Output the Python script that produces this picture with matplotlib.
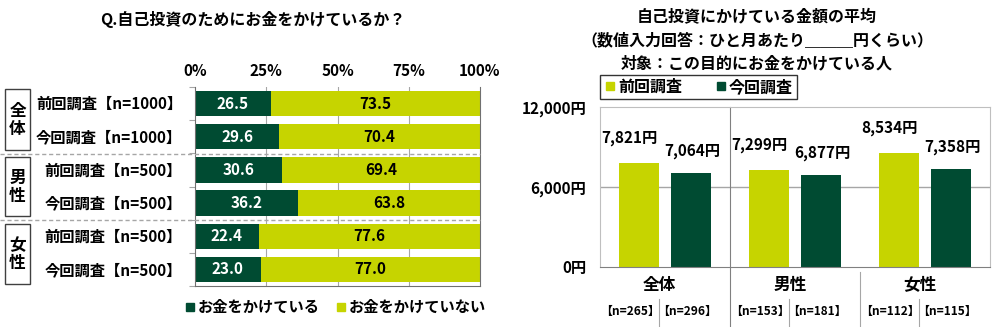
import matplotlib.pyplot as plt
from matplotlib.patches import Rectangle
from matplotlib.lines import Line2D

plt.rcParams['font.family'] = ['Noto Sans CJK JP', 'DejaVu Sans']
plt.rcParams['font.weight'] = 'bold'

DARK = '#004b32'
LIGHT = '#c6d400'
GRID = '#a6a6a6'

# 左：お金をかけているか（%）
row_labels = ['前回調査【n=1000】', '今回調査【n=1000】',
              '前回調査【n=500】', '今回調査【n=500】',
              '前回調査【n=500】', '今回調査【n=500】']
spend_yes = [26.5, 29.6, 30.6, 36.2, 22.4, 23.0]
spend_no = [73.5, 70.4, 69.4, 63.8, 77.6, 77.0]
groups = ['全体', '男性', '女性']
pct_ticks = [0, 25, 50, 75, 100]

# 右：金額の平均（円）
prev_avg = [7821, 7299, 8534]
curr_avg = [7064, 6877, 7358]
prev_n = ['【n=265】', '【n=153】', '【n=112】']
curr_n = ['【n=296】', '【n=181】', '【n=115】']
yen_ticks = [0, 6000, 12000]
right_title = ['自己投資にかけている金額の平均',
               '（数値入力回答：ひと月あたり＿＿＿円くらい）',
               '対象：この目的にお金をかけている人']

W, H = 1000, 327
fig = plt.figure(figsize=(10, 3.27), dpi=100)


def fx(px):
    return px / W


def fy(py):
    return 1 - py / H


# ---- left chart ----
ax = fig.add_axes([fx(195), fy(286), fx(285), 199 / H])
rows = range(len(row_labels))
ax.barh(rows, spend_yes, height=0.76, color=DARK, zorder=2)
ax.barh(rows, spend_no, left=spend_yes, height=0.76, color=LIGHT, zorder=2)
for i in rows:
    ax.text(spend_yes[i] / 2, i, f'{spend_yes[i]:.1f}', color='white',
            ha='center', va='center', fontsize=11)
    ax.text(spend_yes[i] + spend_no[i] / 2, i, f'{spend_no[i]:.1f}',
            color='black', ha='center', va='center', fontsize=11)
ax.set_xlim(0, 100)
ax.set_ylim(len(row_labels) - 0.5, -0.5)
ax.xaxis.tick_top()
ax.set_xticks(pct_ticks)
ax.set_xticklabels([f'{t}%' for t in pct_ticks], fontsize=11)
ax.tick_params(axis='x', length=0, pad=6)
ax.set_yticks([i - 0.5 for i in range(len(row_labels) + 1)])
ax.set_yticklabels([])
ax.tick_params(axis='y', length=4, color=GRID)
for t in pct_ticks[1:-1]:
    ax.axvline(t, color=GRID, lw=0.8, zorder=1)
ax.spines['top'].set_visible(False)
for s in ['left', 'right', 'bottom']:
    ax.spines[s].set_color('#707070')

for i, lab in enumerate(row_labels):
    fig.text(fx(182), fy(104 + 33.2 * i), lab, ha='right', va='center',
             fontsize=11)

box_y = [(89, 150), (157, 216), (224, 284)]
for g, (y0, y1) in zip(groups, box_y):
    fig.patches.append(Rectangle((fx(5), fy(y1)), fx(25), (y1 - y0) / H,
                                 transform=fig.transFigure, fill=False,
                                 edgecolor='#404040', lw=1))
    fig.text(fx(17.5), fy((y0 + y1) / 2), g[0] + '\n' + g[1], ha='center',
             va='center', fontsize=12, linespacing=1.0)

for yy in (153.5, 220):
    fig.lines.append(Line2D([0, fx(480)], [fy(yy), fy(yy)],
                            transform=fig.transFigure, color=GRID, lw=1,
                            ls=(0, (3, 2)), zorder=0))

fig.text(fx(253), fy(20), 'Q.自己投資のためにお金をかけているか？',
         ha='center', va='center', fontsize=11.5)

h_yes = Line2D([], [], marker='s', ls='none', color=DARK, markersize=6)
h_no = Line2D([], [], marker='s', ls='none', color=LIGHT, markersize=6)
fig.legend([h_yes, h_no], ['お金をかけている', 'お金をかけていない'],
           loc='center', bbox_to_anchor=(fx(335), fy(307)), ncol=2,
           frameon=False, fontsize=11, handletextpad=0.1, columnspacing=1.0,
           handlelength=0.8)

# ---- right chart ----
bx = fig.add_axes([fx(600), fy(267), fx(390), 160 / H])
xs = range(len(groups))
bw = 0.31
bx.bar([x - 0.2 for x in xs], prev_avg, width=bw, color=LIGHT, zorder=2)
bx.bar([x + 0.2 for x in xs], curr_avg, width=bw, color=DARK, zorder=2)
for x, v in zip(xs, prev_avg):
    bx.annotate(f'{v:,}円', (x - 0.2, v), xytext=(-7, 18),
                textcoords='offset points', ha='center', va='center',
                fontsize=11)
for x, v in zip(xs, curr_avg):
    bx.annotate(f'{v:,}円', (x + 0.2, v), xytext=(1, 16),
                textcoords='offset points', ha='center', va='center',
                fontsize=11)
bx.set_xlim(-0.5, len(groups) - 0.5)
bx.set_ylim(0, 12000)
bx.set_yticks(yen_ticks)
bx.set_yticklabels([f'{t:,}円' for t in yen_ticks], fontsize=11)
bx.tick_params(axis='y', length=0, pad=10)
bx.set_xticks([])
bx.axhline(6000, color=GRID, lw=1, zorder=1)
for s in ['left', 'top', 'right']:
    bx.spines[s].set_color('#bfbfbf')
bx.spines['bottom'].set_color('#808080')

# group captions and separators under the axis
bt = bx.get_xaxis_transform()
for x, g, n0, n1 in zip(xs, groups, prev_n, curr_n):
    bx.text(x - 0.04, -0.11, g, transform=bt, ha='center', va='center',
            fontsize=12, clip_on=False)
    bx.text(x - 0.27, -0.28, n0, transform=bt, ha='center', va='center',
            fontsize=8.6, clip_on=False)
    bx.text(x + 0.17, -0.28, n1, transform=bt, ha='center', va='center',
            fontsize=8.6, clip_on=False)
    bx.plot([x - 0.045, x - 0.045], [-0.2, -0.37], transform=bt,
            color=GRID, lw=0.8, clip_on=False)
bx.plot([0.5, 0.5], [1, -0.37], transform=bt, color='#808080', lw=0.8,
        clip_on=False)
bx.plot([1.5, 1.5], [-0.03, -0.37], transform=bt, color=GRID, lw=0.8,
        clip_on=False)

for k, line in enumerate(right_title):
    fig.text(fx(757), fy(17 + 23 * k), line, ha='center', va='center',
             fontsize=11.5)

p_prev = Line2D([], [], marker='s', ls='none', color=LIGHT, markersize=6)
p_curr = Line2D([], [], marker='s', ls='none', color=DARK, markersize=6)
leg = fig.legend([p_prev, p_curr], ['前回調査', '今回調査'], loc='upper left',
                 bbox_to_anchor=(fx(600), fy(103), fx(197), 28 / H),
                 mode='expand', ncol=2, fontsize=11.5, frameon=True,
                 fancybox=False, edgecolor='black', handletextpad=0.1,
                 handlelength=0.8, borderpad=0.25, borderaxespad=0)
leg.get_frame().set_linewidth(1)

fig.savefig('out.png', dpi=100)
